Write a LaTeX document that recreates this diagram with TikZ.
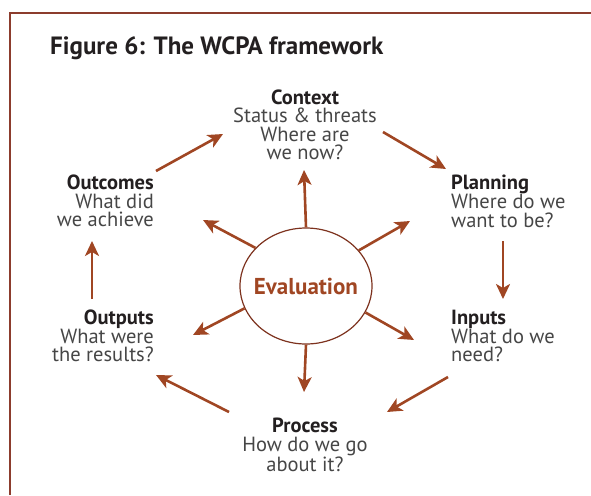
\documentclass[tikz,border=0pt]{standalone}
\usepackage{fontspec}
\setmainfont{PT Sans}
\usetikzlibrary{arrows.meta,shapes.geometric}
\definecolor{arrowbrown}{RGB}{160,70,35}
\definecolor{framebrown}{RGB}{140,60,45}
\definecolor{ellbrown}{RGB}{125,50,30}
\definecolor{txtdark}{RGB}{35,31,32}
\definecolor{txtgray}{RGB}{70,70,70}
\begin{document}
\begin{tikzpicture}[x=1pt,y=-1pt,
  flow/.style={draw=arrowbrown, line width=2.6pt, -{Stealth[length=15pt,width=14pt,inset=4pt]}},
  lbl/.style={font=\fontsize{20.5}{18.5}\selectfont, text=txtgray, inner sep=0pt},
  ]
\useasboundingbox (0,0) rectangle (591,495);
\draw[framebrown, line width=1.3pt] (10,495) -- (10,13) -- (591,13);
\node[anchor=base west, font=\bfseries\fontsize{25}{28}\selectfont, text=txtdark, inner sep=0pt] (title) at (50,55) {Figure 6: The WCPA framework};

\node[lbl, align=center] (context) at (305,125) {\textcolor{txtdark}{\bfseries Context}\\Status \& threats\\Where are\\we now?};
\node[lbl, align=left, anchor=west] (planning) at (451,201) {\textcolor{txtdark}{\bfseries Planning}\\Where do we\\want to be?};
\node[lbl, align=left, anchor=west] (inputs) at (451,336) {\textcolor{txtdark}{\bfseries Inputs}\\What do we\\need?};
\node[lbl, align=center] (process) at (305,445) {\textcolor{txtdark}{\bfseries Process}\\How do we go\\about it?};
\node[lbl, align=right, anchor=east] (outputs) at (154,336) {\textcolor{txtdark}{\bfseries Outputs}\\What were\\the results?};
\node[lbl, align=right, anchor=east] (outcomes) at (154,201) {\textcolor{txtdark}{\bfseries Outcomes}\\What did\\we achieve};

\node[ellipse, draw=ellbrown, line width=1.2pt, minimum width=132pt, minimum height=116pt, inner sep=0pt] (eval) at (306,286) {};
\node[text=arrowbrown, font=\bfseries\fontsize{23}{26}\selectfont, inner sep=0pt] (evaltxt) at (eval.center) {Evaluation};

% cycle arrows
\coordinate (c1s) at (383,132); \coordinate (c1e) at (446,169);
\coordinate (c2s) at (503,241); \coordinate (c2e) at (503,299);
\coordinate (c3s) at (448,377); \coordinate (c3e) at (387,412);
\coordinate (c4s) at (229,412); \coordinate (c4e) at (156,375);
\coordinate (c5s) at (92,299);  \coordinate (c5e) at (92,241);
\coordinate (c6s) at (156,171); \coordinate (c6e) at (223,134);
\draw[flow] (c1s) -- (c1e);
\draw[flow] (c2s) -- (c2e);
\draw[flow] (c3s) -- (c3e);
\draw[flow] (c4s) -- (c4e);
\draw[flow] (c5s) -- (c5e);
\draw[flow] (c6s) -- (c6e);

% evaluation arrows
\coordinate (e1) at (304,170);
\coordinate (e2) at (410,221);
\coordinate (e3) at (414,340);
\coordinate (e4) at (304,392);
\coordinate (e5) at (193,335);
\coordinate (e6) at (203,220);
\draw[flow] (eval.90) -- (e1);
\draw[flow] (eval.34) -- (e2);
\draw[flow] (eval.336) -- (e3);
\draw[flow] (eval.270) -- (e4);
\draw[flow] (eval.200) -- (e5);
\draw[flow] (eval.143) -- (e6);
\end{tikzpicture}
\end{document}
